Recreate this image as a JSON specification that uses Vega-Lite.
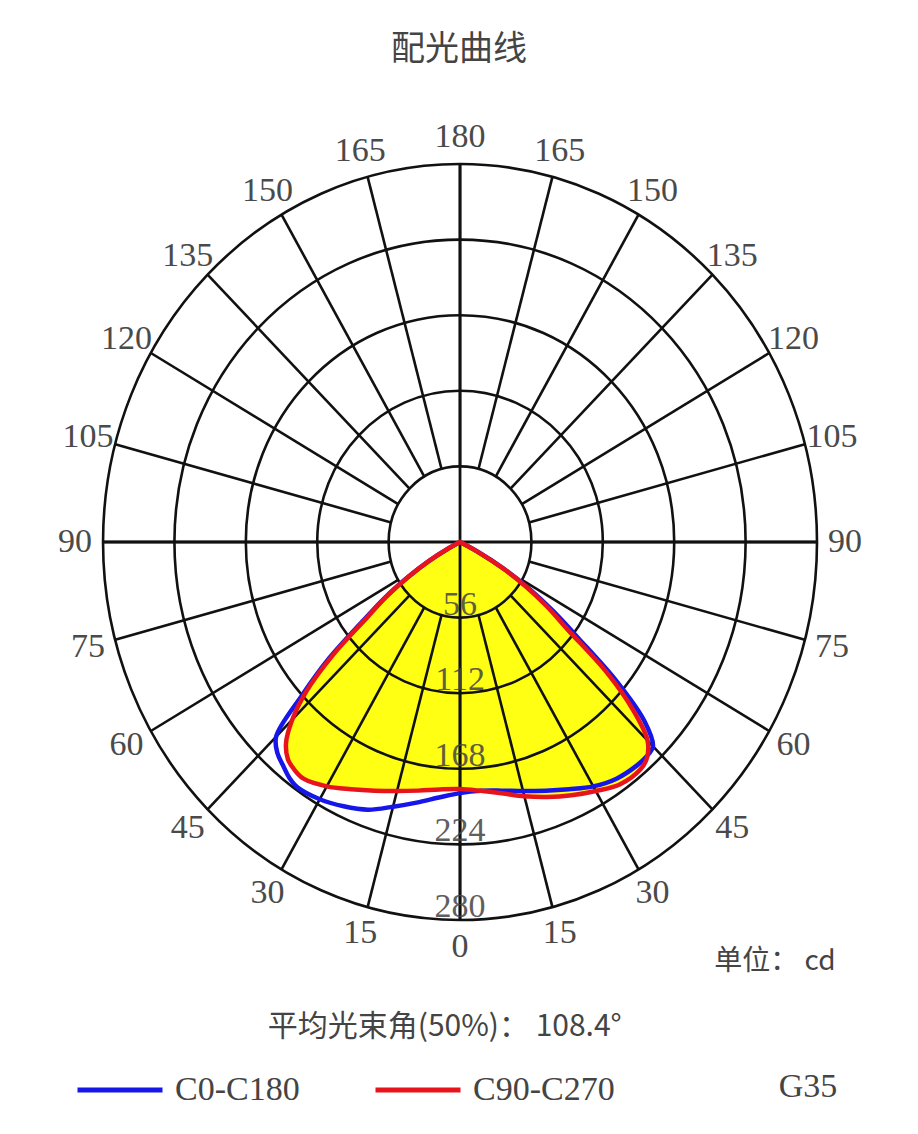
{
  "$schema": "https://vega.github.io/schema/vega-lite/v6.json",
  "autosize": {"type": "none"},
  "padding": {"top": 90, "left": 0, "right": 0, "bottom": 0},
  "width": 918,
  "height": 1044,
  "background": "white",
  "title": {"text": "配光曲线", "font": "Noto Sans CJK SC", "fontSize": 34, "fontWeight": "normal", "color": "#444444", "anchor": "middle", "offset": 21, "baseline": "bottom", "dy": 32},
  "config": {"view": {"stroke": null}},
  "datasets": {
    "curves": [
      {"series": "C0-C180", "a": -90, "cd": 0},
      {"series": "C0-C180", "a": -65, "cd": 0},
      {"series": "C0-C180", "a": -62.5, "cd": 10},
      {"series": "C0-C180", "a": -60, "cd": 28},
      {"series": "C0-C180", "a": -57.5, "cd": 48},
      {"series": "C0-C180", "a": -55, "cd": 72},
      {"series": "C0-C180", "a": -52.5, "cd": 96},
      {"series": "C0-C180", "a": -50, "cd": 134},
      {"series": "C0-C180", "a": -47.5, "cd": 168},
      {"series": "C0-C180", "a": -45, "cd": 204},
      {"series": "C0-C180", "a": -42.5, "cd": 212},
      {"series": "C0-C180", "a": -40, "cd": 216},
      {"series": "C0-C180", "a": -37.5, "cd": 220},
      {"series": "C0-C180", "a": -35, "cd": 222},
      {"series": "C0-C180", "a": -30, "cd": 220},
      {"series": "C0-C180", "a": -25, "cd": 216},
      {"series": "C0-C180", "a": -20, "cd": 211},
      {"series": "C0-C180", "a": -15, "cd": 203},
      {"series": "C0-C180", "a": -10, "cd": 196},
      {"series": "C0-C180", "a": -5, "cd": 190},
      {"series": "C0-C180", "a": 0, "cd": 186},
      {"series": "C0-C180", "a": 5, "cd": 185},
      {"series": "C0-C180", "a": 10, "cd": 187},
      {"series": "C0-C180", "a": 15, "cd": 191},
      {"series": "C0-C180", "a": 20, "cd": 196},
      {"series": "C0-C180", "a": 25, "cd": 202},
      {"series": "C0-C180", "a": 30, "cd": 209},
      {"series": "C0-C180", "a": 35, "cd": 214},
      {"series": "C0-C180", "a": 40, "cd": 216},
      {"series": "C0-C180", "a": 42.5, "cd": 216},
      {"series": "C0-C180", "a": 45, "cd": 214},
      {"series": "C0-C180", "a": 47.5, "cd": 196},
      {"series": "C0-C180", "a": 50, "cd": 160},
      {"series": "C0-C180", "a": 52.5, "cd": 117},
      {"series": "C0-C180", "a": 55, "cd": 89},
      {"series": "C0-C180", "a": 57.5, "cd": 64},
      {"series": "C0-C180", "a": 60, "cd": 40},
      {"series": "C0-C180", "a": 62.5, "cd": 16},
      {"series": "C0-C180", "a": 65, "cd": 0},
      {"series": "C0-C180", "a": 90, "cd": 0},
      {"series": "C90-C270", "a": -90, "cd": 0},
      {"series": "C90-C270", "a": -65, "cd": 0},
      {"series": "C90-C270", "a": -62.5, "cd": 10},
      {"series": "C90-C270", "a": -60, "cd": 28},
      {"series": "C90-C270", "a": -57.5, "cd": 48},
      {"series": "C90-C270", "a": -55, "cd": 70},
      {"series": "C90-C270", "a": -52.5, "cd": 92},
      {"series": "C90-C270", "a": -50, "cd": 130},
      {"series": "C90-C270", "a": -47.5, "cd": 163},
      {"series": "C90-C270", "a": -45, "cd": 186},
      {"series": "C90-C270", "a": -42.5, "cd": 202},
      {"series": "C90-C270", "a": -40, "cd": 210},
      {"series": "C90-C270", "a": -37.5, "cd": 213},
      {"series": "C90-C270", "a": -35, "cd": 214},
      {"series": "C90-C270", "a": -30, "cd": 209},
      {"series": "C90-C270", "a": -25, "cd": 202},
      {"series": "C90-C270", "a": -20, "cd": 196},
      {"series": "C90-C270", "a": -15, "cd": 191},
      {"series": "C90-C270", "a": -10, "cd": 187},
      {"series": "C90-C270", "a": -5, "cd": 184},
      {"series": "C90-C270", "a": 0, "cd": 183},
      {"series": "C90-C270", "a": 5, "cd": 185},
      {"series": "C90-C270", "a": 10, "cd": 189},
      {"series": "C90-C270", "a": 15, "cd": 195},
      {"series": "C90-C270", "a": 20, "cd": 201},
      {"series": "C90-C270", "a": 25, "cd": 207},
      {"series": "C90-C270", "a": 30, "cd": 213},
      {"series": "C90-C270", "a": 35, "cd": 219},
      {"series": "C90-C270", "a": 40, "cd": 220},
      {"series": "C90-C270", "a": 42.5, "cd": 217},
      {"series": "C90-C270", "a": 45, "cd": 208},
      {"series": "C90-C270", "a": 47.5, "cd": 184},
      {"series": "C90-C270", "a": 50, "cd": 150},
      {"series": "C90-C270", "a": 52.5, "cd": 106},
      {"series": "C90-C270", "a": 55, "cd": 83},
      {"series": "C90-C270", "a": 57.5, "cd": 61},
      {"series": "C90-C270", "a": 60, "cd": 38},
      {"series": "C90-C270", "a": 62.5, "cd": 15},
      {"series": "C90-C270", "a": 65, "cd": 0},
      {"series": "C90-C270", "a": 90, "cd": 0}
    ],
    "rings": [{"r": 56}, {"r": 112}, {"r": 168}, {"r": 224}, {"r": 280}],
    "spokes": [
      {"a": 0}, {"a": 15}, {"a": 30}, {"a": 45}, {"a": 60}, {"a": 75}, {"a": 90}, {"a": 105},
      {"a": 120}, {"a": 135}, {"a": 150}, {"a": 165}, {"a": 180}, {"a": 195}, {"a": 210}, {"a": 225},
      {"a": 240}, {"a": 255}, {"a": 270}, {"a": 285}, {"a": 300}, {"a": 315}, {"a": 330}, {"a": 345}
    ],
    "angleLabels": [
      {"a": 0, "label": "0"},
      {"a": -15, "label": "15"}, {"a": -30, "label": "30"}, {"a": -45, "label": "45"},
      {"a": -60, "label": "60"}, {"a": -75, "label": "75"}, {"a": -90, "label": "90"},
      {"a": -105, "label": "105"}, {"a": -120, "label": "120"}, {"a": -135, "label": "135"},
      {"a": -150, "label": "150"}, {"a": -165, "label": "165"},
      {"a": 180, "label": "180"},
      {"a": 15, "label": "15"}, {"a": 30, "label": "30"}, {"a": 45, "label": "45"},
      {"a": 60, "label": "60"}, {"a": 75, "label": "75"}, {"a": 90, "label": "90"},
      {"a": 105, "label": "105"}, {"a": 120, "label": "120"}, {"a": 135, "label": "135"},
      {"a": 150, "label": "150"}, {"a": 165, "label": "165"}
    ]
  },
  "layer": [
    {
      "data": {"name": "curves"},
      "transform": [
        {"filter": "datum.series === 'C90-C270'"},
        {"calculate": "datum.cd*sin(datum.a*PI/180)", "as": "px"},
        {"calculate": "-datum.cd*cos(datum.a*PI/180)", "as": "py"}
      ],
      "mark": {"type": "line", "filled": true, "color": "#ffff14", "strokeWidth": 0, "interpolate": "catmull-rom"},
      "encoding": {
        "x": {"field": "px", "type": "quantitative", "scale": {"domain": [-360.8, 359.2], "nice": false, "zero": false}, "axis": null},
        "y": {"field": "py", "type": "quantitative", "scale": {"domain": [-438.5, 334.8], "nice": false, "zero": false}, "axis": null},
        "order": {"field": "a", "type": "quantitative"}
      }
    },
    {
      "data": {"name": "rings"},
      "mark": {"type": "point", "filled": false, "opacity": 1, "stroke": "#111111", "strokeWidth": 2.6,
        "shape": "M 0.9444 0 C 0.9444 0.5523 0.5216 1 0 1 C -0.5216 1 -0.9444 0.5523 -0.9444 0 C -0.9444 -0.5523 -0.5216 -1 0 -1 C 0.5216 -1 0.9444 -0.5523 0.9444 0 Z"},
      "encoding": {
        "x": {"datum": 0, "type": "quantitative", "scale": {"domain": [-360.8, 359.2], "nice": false, "zero": false}, "axis": null},
        "y": {"datum": 0, "type": "quantitative", "scale": {"domain": [-438.5, 334.8], "nice": false, "zero": false}, "axis": null},
        "size": {"field": "r", "type": "quantitative", "scale": {"type": "pow", "exponent": 2, "domain": [0, 280], "range": [0, 571536]}, "legend": null}
      }
    },
    {
      "data": {"name": "spokes"},
      "transform": [
        {"calculate": "56*sin(datum.a*PI/180)", "as": "x1"},
        {"calculate": "-56*cos(datum.a*PI/180)", "as": "y1"},
        {"calculate": "280*sin(datum.a*PI/180)", "as": "x2"},
        {"calculate": "-280*cos(datum.a*PI/180)", "as": "y2"}
      ],
      "mark": {"type": "rule", "color": "#111111", "strokeWidth": 2.6},
      "encoding": {
        "x": {"field": "x1", "type": "quantitative", "scale": {"domain": [-360.8, 359.2], "nice": false, "zero": false}, "axis": null},
        "y": {"field": "y1", "type": "quantitative", "scale": {"domain": [-438.5, 334.8], "nice": false, "zero": false}, "axis": null},
        "x2": {"field": "x2"},
        "y2": {"field": "y2"}
      }
    },
    {
      "data": {"values": [{}]},
      "mark": {"type": "rule", "color": "#111111", "strokeWidth": 2.8},
      "encoding": {
        "x": {"datum": -280, "type": "quantitative", "scale": {"domain": [-360.8, 359.2], "nice": false, "zero": false}, "axis": null},
        "x2": {"datum": 280},
        "y": {"datum": 0, "type": "quantitative", "scale": {"domain": [-438.5, 334.8], "nice": false, "zero": false}, "axis": null}
      }
    },
    {
      "data": {"values": [{}]},
      "mark": {"type": "rule", "color": "#111111", "strokeWidth": 2.8},
      "encoding": {
        "x": {"datum": 0, "type": "quantitative", "scale": {"domain": [-360.8, 359.2], "nice": false, "zero": false}, "axis": null},
        "y": {"datum": -280, "type": "quantitative", "scale": {"domain": [-438.5, 334.8], "nice": false, "zero": false}, "axis": null},
        "y2": {"datum": 280}
      }
    },
    {
      "data": {"name": "curves"},
      "transform": [
        {"calculate": "datum.cd*sin(datum.a*PI/180)", "as": "px"},
        {"calculate": "-datum.cd*cos(datum.a*PI/180)", "as": "py"}
      ],
      "mark": {"type": "line", "strokeWidth": 4.5, "strokeJoin": "round", "strokeCap": "round", "interpolate": "catmull-rom"},
      "encoding": {
        "x": {"field": "px", "type": "quantitative", "scale": {"domain": [-360.8, 359.2], "nice": false, "zero": false}, "axis": null},
        "y": {"field": "py", "type": "quantitative", "scale": {"domain": [-438.5, 334.8], "nice": false, "zero": false}, "axis": null},
        "order": {"field": "a", "type": "quantitative"},
        "color": {
          "field": "series", "type": "nominal",
          "scale": {"domain": ["C0-C180", "C90-C270"], "range": ["#1616e8", "#e8141c"]},
          "legend": {"title": null, "orient": "none", "legendX": 75, "legendY": 955, "direction": "horizontal",
            "symbolType": "stroke", "symbolSize": 7225, "symbolStrokeWidth": 5,
            "labelFont": "Liberation Serif", "labelFontSize": 34, "labelColor": "#444444",
            "labelOffset": 10, "columnPadding": 65, "padding": 0}
        }
      }
    },
    {
      "data": {"name": "rings"},
      "transform": [{"calculate": "-datum.r", "as": "ny"}],
      "mark": {"type": "text", "font": "Liberation Serif", "fontSize": 34, "color": "#444444", "opacity": 0.85, "baseline": "alphabetic", "align": "center", "dy": -3},
      "encoding": {
        "x": {"datum": 0, "type": "quantitative", "scale": {"domain": [-360.8, 359.2], "nice": false, "zero": false}, "axis": null},
        "y": {"field": "ny", "type": "quantitative", "scale": {"domain": [-438.5, 334.8], "nice": false, "zero": false}, "axis": null},
        "text": {"field": "r", "type": "quantitative"}
      }
    },
    {
      "data": {"name": "angleLabels"},
      "transform": [
        {"calculate": "302*sin(datum.a*PI/180)", "as": "tx"},
        {"calculate": "-300*cos(datum.a*PI/180)", "as": "ty"}
      ],
      "mark": {"type": "text", "font": "Liberation Serif", "fontSize": 34, "color": "#4a4a4a", "baseline": "middle", "align": "center"},
      "encoding": {
        "x": {"field": "tx", "type": "quantitative", "scale": {"domain": [-360.8, 359.2], "nice": false, "zero": false}, "axis": null},
        "y": {"field": "ty", "type": "quantitative", "scale": {"domain": [-438.5, 334.8], "nice": false, "zero": false}, "axis": null},
        "text": {"field": "label", "type": "nominal"}
      }
    },
    {
      "data": {"values": [{}]},
      "mark": {"type": "text", "font": "Noto Sans CJK SC", "fontSize": 28, "color": "#444444", "baseline": "middle", "align": "center", "text": "单位： cd"},
      "encoding": {
        "x": {"datum": 247, "type": "quantitative", "scale": {"domain": [-360.8, 359.2], "nice": false, "zero": false}, "axis": null},
        "y": {"datum": -311, "type": "quantitative", "scale": {"domain": [-438.5, 334.8], "nice": false, "zero": false}, "axis": null}
      }
    },
    {
      "data": {"values": [{}]},
      "mark": {"type": "text", "font": "Noto Sans CJK SC", "fontSize": 30, "color": "#444444", "baseline": "middle", "align": "center", "text": "平均光束角(50%)： 108.4°"},
      "encoding": {
        "x": {"datum": -12, "type": "quantitative", "scale": {"domain": [-360.8, 359.2], "nice": false, "zero": false}, "axis": null},
        "y": {"datum": -359, "type": "quantitative", "scale": {"domain": [-438.5, 334.8], "nice": false, "zero": false}, "axis": null}
      }
    },
    {
      "data": {"values": [{}]},
      "mark": {"type": "text", "font": "Liberation Serif", "fontSize": 34, "color": "#444444", "baseline": "middle", "align": "center", "text": "G35"},
      "encoding": {
        "x": {"datum": 273, "type": "quantitative", "scale": {"domain": [-360.8, 359.2], "nice": false, "zero": false}, "axis": null},
        "y": {"datum": -404, "type": "quantitative", "scale": {"domain": [-438.5, 334.8], "nice": false, "zero": false}, "axis": null}
      }
    }
  ]
}
